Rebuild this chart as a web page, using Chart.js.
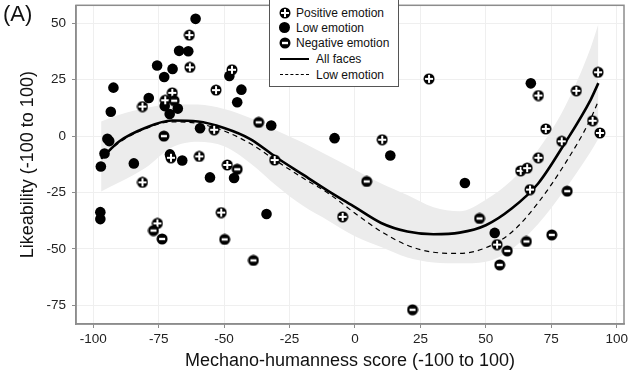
<!DOCTYPE html>
<html>
<head>
<meta charset="utf-8">
<script src="https://cdn.jsdelivr.net/npm/chart.js@4/dist/chart.umd.min.js"></script>
<style>
  body { margin: 0; background: #fff; font-family: "Liberation Sans", Arial, sans-serif; }
  #wrap { position: relative; width: 640px; height: 377px; }
  #panelLabel { position: absolute; left: 3px; top: 1px; font-size: 22px; color: #111; }
  #legend {
    position: absolute; left: 269px; top: -1px; width: 128px; height: 86px;
    border: 1px solid #555; background: #fff; font-size: 12px; color: #111;
  }
  .row { position: absolute; left: 0; height: 14px; line-height: 14px; white-space: nowrap; }
  .row canvas, .row .dot { position: absolute; top: 1px; }
  .dot { width: 11px; height: 11px; border-radius: 50%; background: #000; }
  .ln { position: absolute; top: 6px; width: 29px; }
</style>
</head>
<body>
<div id="wrap">
  <canvas id="scatterPlot" width="640" height="377"></canvas>
  <div id="panelLabel">(A)</div>
  <div id="legend"></div>
</div>
<script>
// tick labels
const xTicks = [-100, -75, -50, -25, 0, 25, 50, 75, 100];
const yTicks = [-75, -50, -25, 0, 25, 50];

// positive emotion faces
const positiveX = [-72.5, -69.8, -63.3, -63.1, -81.2, -53.1, -47.0, -53.8, -70.3, -59.5, -48.8, -81.2, -30.7, -75.5, -51.1,
  28.3, 10.4, -4.7, 70.1, 84.6, 92.9, 72.9, 90.8, 93.6, 79.0, 70.1, 63.3, 65.8, 66.9, 54.3];
const positiveY = [15.9, 19.2, 44.8, 30.5, 13.1, 20.4, 29.4, 2.8, -9.6, -9.0, -12.8, -20.5, -10.6, -38.7, -33.9,
  25.4, -1.6, -35.8, 18.0, 20.1, 28.3, 3.2, 6.8, 1.4, -2.3, -9.6, -15.4, -14.2, -23.7, -48.1];

// low emotion faces
const lowX = [-60.9, -67.2, -63.7, -75.6, -69.7, -72.9, -92.3, -78.8, -93.3, -72.7, -67.7, -70.8, -48.0, -43.4, -45.0,
  -32.0, -59.2, -94.6, -93.9, -95.7, -97.1, -84.5, -70.7, -66.0, -55.4, -46.2, -97.3, -97.3, -33.8,
  -7.8, 13.5, 42.0, 67.2, 53.4];
const lowY = [52.0, 37.8, 37.6, 31.3, 29.8, 26.2, 21.5, 16.9, 10.8, 13.3, 12.2, 9.8, 26.7, 20.6, 15.0,
  4.7, 3.5, -1.2, -2.2, -7.7, -13.5, -12.1, -8.1, -10.8, -18.3, -18.6, -33.7, -36.8, -34.5,
  -0.9, -8.6, -20.8, 23.4, -42.9];

// negative emotion faces
const negativeX = [-69.1, -73.0, -36.8, -45.0, -77.0, -73.7, -49.8, -38.8, 4.5, 47.6, 58.2, 55.3, 65.5, 75.2, 81.1, 22.0];
const negativeY = [15.7, 0, 6.1, -14.7, -41.9, -45.6, -45.8, -55.1, -20.1, -36.5, -50.9, -57.1, -46.7, -43.8, -24.4, -77.0];

// fitted curves
const curveX = [-97, -90, -80, -70, -60, -50, -40, -30, -20, -10, 0, 10, 20, 30, 40, 50, 60, 70, 80, 90, 93];
const allFacesY = [-10, -2.3, 3.7, 6.9, 6.5, 3.6, -1.3, -9.5, -17, -24.5, -31.5, -38.5, -42.3, -43.5, -42.8, -39.5, -32, -21, -3.5, 16, 23.5];
const lowEmotionY = [-10, -2.8, 3.3, 6.3, 5.6, 2.3, -3.3, -11, -18.5, -25.5, -34.2, -42.3, -48.4, -51.5, -52, -49.5, -42.5, -29.5, -12.7, 7.5, 15.6];
const bandUpper = [6.5, 9.5, 12.5, 14, 14, 12, 8, 2.5, -2.8, -8.8, -14.9, -21, -26.1, -31.5, -33.3, -28.2, -19.5, -6, 12.5, 39, 49.7];
const bandLower = [-24.5, -20.5, -14, -5, -2.5, -4.5, -12, -22, -30.8, -37.6, -44.4, -49.2, -53.8, -56, -56.4, -55.7, -50, -39, -24, -7, -1.2];

const legendLabels = ["Positive emotion", "Low emotion", "Negative emotion", "All faces", "Low emotion"];

function makeMarker(kind) {
  const c = document.createElement("canvas");
  c.width = 12;
  c.height = 12;
  const g = c.getContext("2d");
  g.fillStyle = "#000";
  g.beginPath();
  g.arc(6, 6, 5.5, 0, 2 * Math.PI);
  g.fill();
  g.fillStyle = "#fff";
  if (kind === "plus") {
    g.fillRect(5, 2, 2, 8);
    g.fillRect(2, 5, 8, 2);
  } else if (kind === "minus") {
    g.fillRect(3, 4.8, 6, 2.4);
  }
  return c;
}

const plusMarker = makeMarker("plus");
const minusMarker = makeMarker("minus");

function pairs(xs, ys) {
  return xs.map((x, i) => ({ x, y: ys[i] }));
}

// panel border on top and right
const panelBorder = {
  id: "panelBorder",
  afterDraw(chart) {
    const { ctx, chartArea: a } = chart;
    ctx.save();
    ctx.strokeStyle = "#8c8c8c";
    ctx.lineWidth = 1.5;
    ctx.strokeRect(a.left, a.top, a.right - a.left, a.bottom - a.top);
    ctx.restore();
  },
};

const ctx = document.getElementById("scatterPlot").getContext("2d");

new Chart(ctx, {
  type: "scatter",
  data: {
    datasets: [
      {
        label: "positive",
        data: pairs(positiveX, positiveY),
        pointStyle: plusMarker,
        order: 1,
      },
      {
        label: "low",
        data: pairs(lowX, lowY),
        pointStyle: "circle",
        pointRadius: 5.3,
        backgroundColor: "#000",
        borderWidth: 0,
        order: 2,
      },
      {
        label: "negative",
        data: pairs(negativeX, negativeY),
        pointStyle: minusMarker,
        order: 0,
      },
      {
        label: "All faces",
        data: pairs(curveX, allFacesY),
        showLine: true,
        borderColor: "#000",
        borderWidth: 2.6,
        pointRadius: 0,
        cubicInterpolationMode: "monotone",
        order: 4,
      },
      {
        label: "Low emotion fit",
        data: pairs(curveX, lowEmotionY),
        showLine: true,
        borderColor: "#000",
        borderWidth: 1.2,
        borderDash: [5, 4],
        pointRadius: 0,
        cubicInterpolationMode: "monotone",
        order: 3,
      },
      {
        label: "upper",
        data: pairs(curveX, bandUpper),
        showLine: true,
        borderWidth: 0,
        borderColor: "rgba(0,0,0,0)",
        backgroundColor: "#ececec",
        pointRadius: 0,
        cubicInterpolationMode: "monotone",
        fill: "+1",
        order: 6,
      },
      {
        label: "lower",
        data: pairs(curveX, bandLower),
        showLine: true,
        borderWidth: 0,
        borderColor: "rgba(0,0,0,0)",
        pointRadius: 0,
        cubicInterpolationMode: "monotone",
        order: 7,
      },
    ],
  },
  options: {
    responsive: false,
    animation: false,
    layout: { padding: { left: 0, right: 16, top: 1, bottom: 0 } },
    plugins: {
      legend: { display: false },
      tooltip: { enabled: false },
    },
    scales: {
      x: {
        type: "linear",
        min: -106.6,
        max: 102.8,
        afterBuildTicks: (s) => { s.ticks = xTicks.map((v) => ({ value: v })); },
        afterFit: (s) => {
          s.height = 53;
          s.paddingLeft = 0;
          s.paddingRight = 0;
        },
        grid: { color: "#efefef", lineWidth: 1, tickColor: "#8c8c8c", tickLength: 4 },
        border: { color: "#8c8c8c", width: 1.5 },
        ticks: {
          color: "#222",
          padding: 3,
          font: { family: "Liberation Sans", size: 13.5 },
          maxRotation: 0,
        },
        title: {
          display: true,
          text: "Mechano-humanness score (-100 to 100)",
          color: "#111",
          font: { family: "Liberation Sans", size: 18 },
          padding: { top: 0, bottom: 5 },
        },
      },
      y: {
        type: "linear",
        min: -83.3,
        max: 58,
        afterBuildTicks: (s) => { s.ticks = yTicks.map((v) => ({ value: v })); },
        afterFit: (s) => {
          s.width = 76;
          s.paddingTop = 0;
          s.paddingBottom = 0;
        },
        grid: { color: "#efefef", lineWidth: 1, tickColor: "#8c8c8c", tickLength: 4 },
        border: { color: "#8c8c8c", width: 1.5 },
        ticks: {
          color: "#222",
          padding: 6,
          font: { family: "Liberation Sans", size: 13.5 },
        },
        title: {
          display: true,
          text: "Likeability (-100 to 100)",
          color: "#111",
          font: { family: "Liberation Sans", size: 18 },
          padding: { top: 17, bottom: 0 },
        },
      },
    },
  },
  plugins: [panelBorder],
});

// legend box drawn in html, placed over the panel
const legend = document.getElementById("legend");
const rowTops = [6, 21, 36, 52, 68];
legendLabels.forEach((label, i) => {
  const row = document.createElement("div");
  row.className = "row";
  row.style.top = rowTops[i] + "px";
  let textLeft = 26;
  if (i === 0 || i === 2) {
    const m = makeMarker(i === 0 ? "plus" : "minus");
    m.style.left = "9px";
    row.appendChild(m);
  } else if (i === 1) {
    const d = document.createElement("div");
    d.className = "dot";
    d.style.left = "9px";
    row.appendChild(d);
  } else {
    const l = document.createElement("div");
    l.className = "ln";
    l.style.left = "10px";
    l.style.borderTop = i === 3 ? "2.5px solid #000" : "1.5px dashed #000";
    row.appendChild(l);
    textLeft = 46;
  }
  const t = document.createElement("span");
  t.style.position = "absolute";
  t.style.left = textLeft + "px";
  t.textContent = label;
  row.appendChild(t);
  legend.appendChild(row);
});
</script>
</body>
</html>
